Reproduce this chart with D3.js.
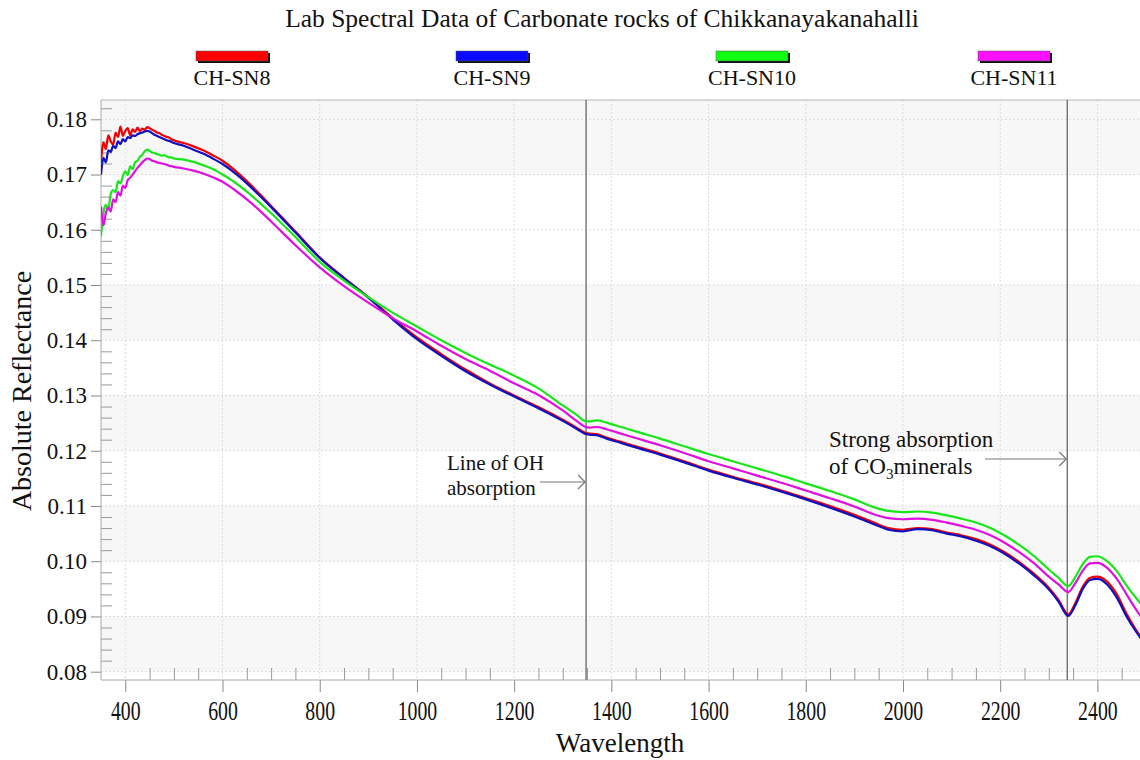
<!DOCTYPE html>
<html>
<head>
<meta charset="utf-8">
<script src="https://cdn.jsdelivr.net/npm/d3@7"></script>
<style>
  body { margin: 0; background: #fff; }
  svg text { font-family: "Liberation Serif", "Times New Roman", serif; fill: #111; }
</style>
</head>
<body>
<section></section>
<script>
// wavelengths (nm) - dense in the noisy visible part, sparser after
const wavelengths = [
  350, 355, 360, 365, 370, 375, 380, 385, 390, 395, 400, 405, 410, 415, 420, 425,
  430, 435, 440, 445, 450, 455, 460, 465, 470, 475, 480, 485, 490, 495, 500,
  520, 540, 560, 580, 600, 625, 650, 675, 700, 750, 800, 850, 900, 950, 1000,
  1050, 1100, 1150, 1200, 1250, 1300, 1330, 1345, 1355, 1370, 1390, 1420, 1450,
  1500, 1550, 1600, 1650, 1700, 1750, 1800, 1850, 1900, 1940, 1970, 2000, 2030,
  2060, 2090, 2120, 2150, 2180, 2210, 2240, 2270, 2300, 2320, 2340, 2355, 2370,
  2385, 2400, 2420, 2440, 2460, 2480, 2500
];

const sn8 = [
  0.1722, 0.1758, 0.1746, 0.1771, 0.1760, 0.1754, 0.1776, 0.1768, 0.1787, 0.1770, 0.1779, 0.1784, 0.1771, 0.1782, 0.1777, 0.1785,
  0.1779, 0.1783, 0.1781, 0.1786, 0.1784, 0.1781, 0.1779, 0.1776, 0.1775, 0.1772, 0.1770, 0.1768, 0.1767, 0.1764, 0.1762,
  0.1757, 0.1751, 0.1744, 0.1735, 0.1725, 0.1708, 0.1688, 0.1666, 0.1643, 0.1597, 0.1550, 0.1513, 0.1478, 0.1440, 0.1405,
  0.1375, 0.1347, 0.1322, 0.1300, 0.1279, 0.1256, 0.1241, 0.1233, 0.1231, 0.1230, 0.1224, 0.1216, 0.1208,
  0.1195, 0.1181, 0.1166, 0.1153, 0.1141, 0.1128, 0.1114, 0.1100, 0.1084, 0.1070, 0.1060, 0.1057, 0.1060,
  0.1058, 0.1052, 0.1047, 0.1040, 0.1030, 0.1016, 0.0998, 0.0977, 0.0952, 0.0930, 0.0904, 0.0925, 0.0954,
  0.0970, 0.0972, 0.0963, 0.0940, 0.0905, 0.0875, 0.0850
];

const sn9 = [
  0.1700, 0.1730, 0.1722, 0.1744, 0.1741, 0.1752, 0.1748, 0.1760, 0.1755, 0.1764, 0.1760, 0.1768, 0.1766, 0.1771, 0.1770, 0.1773,
  0.1775, 0.1776, 0.1778, 0.1779, 0.1778, 0.1775, 0.1772, 0.1770, 0.1768, 0.1766, 0.1764, 0.1762, 0.1761, 0.1759, 0.1757,
  0.1752, 0.1745, 0.1738, 0.1729, 0.1719, 0.1703, 0.1684, 0.1663, 0.1641, 0.1595, 0.1549, 0.1512, 0.1477, 0.1438, 0.1402,
  0.1372, 0.1344, 0.1320, 0.1298, 0.1277, 0.1254, 0.1239, 0.1231, 0.1229, 0.1228, 0.1222, 0.1214, 0.1206,
  0.1193, 0.1179, 0.1164, 0.1151, 0.1139, 0.1126, 0.1112, 0.1097, 0.1081, 0.1067, 0.1057, 0.1054, 0.1058,
  0.1056, 0.1050, 0.1045, 0.1037, 0.1027, 0.1013, 0.0995, 0.0974, 0.0949, 0.0927, 0.0901, 0.0921, 0.0950,
  0.0966, 0.0968, 0.0958, 0.0934, 0.0900, 0.0872, 0.0848
];

const sn10 = [
  0.1588, 0.1630, 0.1645, 0.1637, 0.1665, 0.1672, 0.1668, 0.1688, 0.1684, 0.1697, 0.1706, 0.1699, 0.1715, 0.1710, 0.1722, 0.1725,
  0.1732, 0.1736, 0.1742, 0.1745, 0.1743, 0.1740, 0.1739, 0.1737, 0.1736, 0.1734, 0.1735, 0.1733, 0.1731, 0.1731, 0.1729,
  0.1727, 0.1723, 0.1717, 0.1710, 0.1700, 0.1686, 0.1669, 0.1650, 0.1630, 0.1587, 0.1542, 0.1508, 0.1478, 0.1450, 0.1425,
  0.1400, 0.1377, 0.1356, 0.1336, 0.1313, 0.1282, 0.1264, 0.1254, 0.1253, 0.1255, 0.1251, 0.1243, 0.1235,
  0.1222, 0.1208, 0.1194, 0.1181, 0.1168, 0.1155, 0.1141, 0.1127, 0.1112, 0.1098, 0.1091, 0.1089, 0.1090,
  0.1088, 0.1083, 0.1077, 0.1070, 0.1060, 0.1046, 0.1029, 0.1009, 0.0985, 0.0970, 0.0955, 0.0972, 0.0995,
  0.1008, 0.1009, 0.1000, 0.0982, 0.0956, 0.0933, 0.0912
];

const sn11 = [
  0.1642, 0.1608, 0.1630, 0.1640, 0.1633, 0.1655, 0.1650, 0.1668, 0.1662, 0.1680, 0.1676, 0.1690, 0.1694, 0.1700, 0.1706, 0.1712,
  0.1717, 0.1722, 0.1726, 0.1729, 0.1728, 0.1725, 0.1724, 0.1722, 0.1721, 0.1720, 0.1719, 0.1718, 0.1716, 0.1715, 0.1714,
  0.1711, 0.1707, 0.1702, 0.1695, 0.1687, 0.1672, 0.1655, 0.1636, 0.1615, 0.1572, 0.1532, 0.1498, 0.1468, 0.1440, 0.1416,
  0.1390, 0.1366, 0.1345, 0.1322, 0.1301, 0.1273, 0.1253, 0.1244, 0.1242, 0.1243, 0.1239, 0.1231, 0.1223,
  0.1210, 0.1196, 0.1181, 0.1168, 0.1155, 0.1142, 0.1128, 0.1114, 0.1099, 0.1085, 0.1078, 0.1076, 0.1077,
  0.1075, 0.1070, 0.1064, 0.1057, 0.1047, 0.1033, 0.1016, 0.0996, 0.0972, 0.0958, 0.0944, 0.0961, 0.0983,
  0.0996, 0.0997, 0.0988, 0.0968, 0.0940, 0.0912, 0.0888
];

const seriesNames = ["CH-SN8", "CH-SN9", "CH-SN10", "CH-SN11"];
const lineColors = ["#f00000", "#1010c0", "#19e619", "#e010e0"];
const legendColors = ["#ff0000", "#0a0aff", "#11ff11", "#ff11ff"];

const xTicks = [400, 600, 800, 1000, 1200, 1400, 1600, 1800, 2000, 2200, 2400];
const yTicks = [0.08, 0.09, 0.10, 0.11, 0.12, 0.13, 0.14, 0.15, 0.16, 0.17, 0.18];
const bandRanges = [[0.08, 0.09], [0.10, 0.11], [0.12, 0.13], [0.14, 0.15], [0.17, 0.19]];
const markerLines = [1348, 2338];

const title = "Lab Spectral Data of Carbonate rocks of Chikkanayakanahalli";

const width = 1140, height = 760;
const plot = { left: 101, right: 1146, top: 100, bottom: 680 };

const svg = d3.select("section").append("svg")
  .attr("width", width)
  .attr("height", height);

const x = d3.scaleLinear().domain([350, 2500]).range([plot.left, plot.right]);
const y = d3.scaleLinear().domain([0.08, 0.18]).range([671.7, 119.3]);

// background stripes
svg.append("rect")
  .attr("x", plot.left).attr("y", plot.top)
  .attr("width", plot.right - plot.left).attr("height", plot.bottom - plot.top)
  .attr("fill", "#fff");

svg.append("g")
  .selectAll("rect")
  .data(bandRanges)
  .enter()
  .append("rect")
  .attr("x", plot.left)
  .attr("width", plot.right - plot.left)
  .attr("y", d => Math.max(plot.top, y(d[1])))
  .attr("height", d => Math.min(plot.bottom, y(d[0])) - Math.max(plot.top, y(d[1])))
  .attr("fill", "#f7f7f7");

// dotted grid
svg.append("g")
  .selectAll("line")
  .data(yTicks)
  .enter()
  .append("line")
  .attr("x1", plot.left).attr("x2", plot.right)
  .attr("y1", d => y(d)).attr("y2", d => y(d))
  .attr("stroke", "#dcdcdc")
  .attr("stroke-dasharray", "2,2");

svg.append("g")
  .selectAll("line")
  .data(xTicks)
  .enter()
  .append("line")
  .attr("x1", d => x(d)).attr("x2", d => x(d))
  .attr("y1", plot.top).attr("y2", plot.bottom)
  .attr("stroke", "#dcdcdc")
  .attr("stroke-dasharray", "2,2");

// plot frame (top + left), the right side is cut off by the picture
svg.append("line")
  .attr("x1", plot.left).attr("x2", width)
  .attr("y1", plot.top).attr("y2", plot.top)
  .attr("stroke", "#b5b5b5");

// axes
const minorY = d3.range(0.08, 0.1835, 0.002).filter(v => Math.abs(Math.round(v * 100) - v * 100) > 1e-6);
const minorX = d3.range(450, 2501, 50).filter(v => v % 200 !== 0);

const yAxis = svg.append("g")
  .attr("transform", `translate(${plot.left},0)`)
  .call(d3.axisLeft(y).tickValues(yTicks).tickFormat(d3.format(".2f")).tickSize(10).tickPadding(4));
yAxis.select(".domain").remove();
yAxis.selectAll(".tick line").attr("stroke", "#888");
yAxis.selectAll(".tick text").attr("font-size", 23).attr("fill", "#111");

const yMinor = svg.append("g")
  .attr("transform", `translate(${plot.left},0)`)
  .call(d3.axisLeft(y).tickValues(minorY).tickFormat("").tickSize(-11));
yMinor.select(".domain").remove();
yMinor.selectAll(".tick line").attr("stroke", "#999");

svg.append("line")
  .attr("x1", plot.left).attr("x2", plot.left)
  .attr("y1", plot.top).attr("y2", plot.bottom)
  .attr("stroke", "#aaa");

const xAxis = svg.append("g")
  .attr("transform", `translate(0,${plot.bottom})`)
  .call(d3.axisBottom(x).tickValues(xTicks).tickFormat(d3.format("d")).tickSize(12).tickPadding(6));
xAxis.select(".domain").remove();
xAxis.selectAll(".tick line").attr("stroke", "#888");
xAxis.selectAll(".tick text")
  .attr("font-size", 22)
  .attr("fill", "#111")
  .attr("transform", "scale(0.9,1.2)");

const xMinor = svg.append("g")
  .attr("transform", `translate(0,${plot.bottom})`)
  .call(d3.axisBottom(x).tickValues(minorX).tickFormat("").tickSize(-12));
xMinor.select(".domain").remove();
xMinor.selectAll(".tick line").attr("stroke", "#999");

svg.append("line")
  .attr("x1", plot.left).attr("x2", width)
  .attr("y1", plot.bottom).attr("y2", plot.bottom)
  .attr("stroke", "#aaa");

// absorption marker lines
svg.append("g")
  .selectAll("line")
  .data(markerLines)
  .enter()
  .append("line")
  .attr("x1", d => x(d)).attr("x2", d => x(d))
  .attr("y1", plot.top).attr("y2", plot.bottom)
  .attr("stroke", "#666")
  .attr("stroke-width", 1.3);

// spectra
svg.append("clipPath").attr("id", "clip")
  .append("rect")
  .attr("x", plot.left).attr("y", plot.top)
  .attr("width", plot.right - plot.left).attr("height", plot.bottom - plot.top);

const series = [sn8, sn9, sn10, sn11];
const line = d3.line()
  .x((d, i) => x(wavelengths[i]))
  .y(d => y(d))
  .curve(d3.curveMonotoneX);

svg.append("g")
  .attr("clip-path", "url(#clip)")
  .selectAll("path")
  .data(series)
  .enter()
  .append("path")
  .attr("d", d => line(d))
  .attr("fill", "none")
  .attr("stroke", (d, i) => lineColors[i])
  .attr("stroke-width", 2.2)
  .attr("stroke-linejoin", "round");

// annotations
function arrow(x1, x2, yy) {
  svg.append("line")
    .attr("x1", x1).attr("x2", x2).attr("y1", yy).attr("y2", yy)
    .attr("stroke", "#777").attr("stroke-width", 1.2);
  svg.append("path")
    .attr("d", `M${x2 - 7},${yy - 7}L${x2},${yy}L${x2 - 7},${yy + 7}`)
    .attr("fill", "none").attr("stroke", "#777").attr("stroke-width", 1.2);
}

const ohX = x(markerLines[0]);
svg.append("text").attr("x", 447).attr("y", 470).attr("font-size", 21).text("Line of OH");
svg.append("text").attr("x", 447).attr("y", 495).attr("font-size", 21).text("absorption");
arrow(540, ohX - 1, 482);

const coX = x(markerLines[1]);
svg.append("text").attr("x", 829).attr("y", 447).attr("font-size", 23).text("Strong absorption");
const co = svg.append("text").attr("x", 829).attr("y", 474).attr("font-size", 23);
co.append("tspan").text("of CO");
co.append("tspan").attr("font-size", 15).attr("dy", 5).text("3");
co.append("tspan").attr("dy", -5).text("minerals");
arrow(985, coX - 1, 459);

// title + legend
svg.append("text")
  .attr("x", 602).attr("y", 27)
  .attr("text-anchor", "middle")
  .attr("font-size", 25.5)
  .text(title);

const legendX = [196, 456, 716, 978];
const legend = svg.append("g")
  .selectAll("g")
  .data(seriesNames)
  .enter()
  .append("g")
  .attr("transform", (d, i) => `translate(${legendX[i]},51)`);

legend.append("rect")
  .attr("x", 2).attr("y", 2).attr("width", 72).attr("height", 10)
  .attr("fill", "#111");
legend.append("rect")
  .attr("x", 0).attr("y", 0).attr("width", 72).attr("height", 10)
  .attr("fill", (d, i) => legendColors[i])
  .attr("stroke", "#555").attr("stroke-width", 0.5);
legend.append("text")
  .attr("x", 36).attr("y", 34)
  .attr("text-anchor", "middle")
  .attr("font-size", 22)
  .text(d => d);

// axis titles
svg.append("text")
  .attr("x", 620).attr("y", 752)
  .attr("text-anchor", "middle")
  .attr("font-size", 27)
  .text("Wavelength");

svg.append("text")
  .attr("transform", "translate(31,391) rotate(-90)")
  .attr("text-anchor", "middle")
  .attr("font-size", 28)
  .text("Absolute Reflectance");
</script>
</body>
</html>
